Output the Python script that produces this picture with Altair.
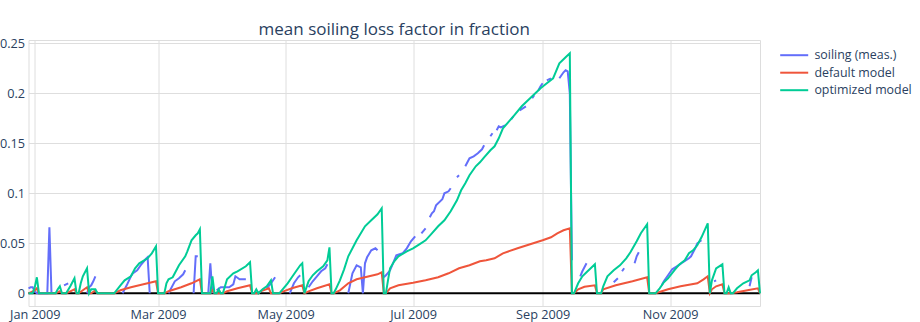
import altair as alt
import pandas as pd

# ---------------- data (days counted from 2009-01-01) ----------------
base_date = "2009-01-01"

series_names = ["soiling (meas.)", "default model", "optimized model"]
series_colors = ["#636efa", "#EF553B", "#00cc96"]

meas_day = [-3, -2, -1, 0, 1, 6, 7, 8, 9,
            14, 16, 17,
            25, 26, 27, 28, 29, 30,
            42, 44, 46, 47, 49, 51, 53, 54, 55, 56,
            64, 67, 69, 71, 72, 73,
            76, 77, 78, 79,
            83, 84, 85, 86,
            87, 89, 93, 95, 96, 98, 101, 102,
            111, 113, 115, 116,
            122, 124, 126, 127, 128,
            131, 133, 135, 137, 139, 140, 141,
            150, 152, 154, 155, 156, 157, 158, 159, 161, 163, 164, 165,
            167, 168, 170, 172, 173, 176, 178, 180, 182, 183,
            185, 187, 188,
            189, 190, 191, 192, 195, 196, 198, 199, 200,
            202, 203, 204,
            206, 208, 210, 212, 214, 215, 216,
            218, 219, 220,
            221, 222, 223, 225, 226,
            228, 229, 230,
            232, 235, 236,
            238, 239, 240,
            241, 242, 243, 244,
            245, 247, 248,
            251, 252, 253, 254, 255, 256, 257, 258,
            261, 262, 264, 265,
            277, 279, 280,
            281, 282, 283,
            287, 288, 289, 290,
            300, 301, 303, 305, 308, 310, 313, 314, 316, 317, 319, 320,
            325, 326, 327,
            342, 343, 344]
meas_val = [0.005, 0.006, 0.006, 0.002, 0, 0, 0.066, 0, None,
            0.008, 0.01, None,
            0, 0.006, 0.008, 0.012, 0.017, None,
            0, 0.008, 0.017, 0.02, 0.023, 0.029, 0.034, 0.036, 0, None,
            0, 0.012, 0.015, 0.019, 0.023, None,
            0, 0.037, 0.037, None,
            0, 0.03, 0, None,
            0.003, 0.006, 0.006, 0.009, 0.017, 0.014, 0.014, None,
            0.005, 0.01, 0.016, None,
            0, 0.01, 0.016, 0.018, None,
            0.006, 0.012, 0.017, 0.022, 0.025, 0.029, None,
            0, 0.02, 0.028, 0.027, 0.026, 0, 0.03, 0.036, 0.043, 0.045, 0.043, None,
            0.016, 0.018, 0.023, 0.033, 0.038, 0.04, 0.045, 0.052, 0.057, None,
            0.06, 0.065, None,
            0.076, 0.08, 0.082, 0.088, 0.094, 0.1, 0.102, 0.105, None,
            0.116, 0.118, None,
            0.127, 0.135, 0.137, 0.14, 0.144, 0.148, None,
            0.157, 0.16, None,
            0.163, 0.167, 0.166, 0.168, None,
            0.174, 0.177, None,
            0.183, 0.187, None,
            0.195, 0.198, None,
            0.203, 0.207, 0.21, None,
            0.213, 0.215, None,
            0.215, 0.218, 0.221, 0.223, 0.222, 0.2, 0.033, None,
            0.017, 0.022, 0.03, None,
            0.011, 0.015, None,
            0.022, 0.025, None,
            0.03, 0.037, 0.041, None,
            0.008, 0.012, 0.018, 0.024, 0.028, 0.031, 0.035, 0.037, 0.045, 0.05, 0.053, None,
            0.012, 0.013, None,
            0.007, 0.016, None]

default_day = [-3, 0, 1, 2,
               10, 12, 13,
               15, 19, 20,
               21, 25, 26,
               27, 29, 30,
               38, 41, 46, 50, 54, 58, 59,
               62, 64, 70, 75, 79, 80,
               84, 85, 86,
               90, 92, 97, 103, 104,
               107, 108, 112, 113,
               117, 119, 123, 128, 129,
               131, 135, 141, 142,
               143, 146, 150, 154, 160, 164, 166, 167,
               168, 170, 174, 181, 187, 193, 198, 203, 208, 213, 216, 220, 224, 231,
               237, 243, 247, 250, 253, 256, 257,
               258, 260, 263, 268, 269,
               271, 272, 278, 286, 293, 294,
               297, 300, 303, 309, 317, 320, 322, 323,
               324, 326, 329, 330,
               333, 336, 341, 346, 347]
default_val = [0, 0.003, 0.005, 0,
               0, 0.002, 0,
               0, 0.004, 0,
               0, 0.006, 0,
               0, 0.003, 0,
               0, 0.003, 0.006, 0.008, 0.01, 0.012, 0,
               0, 0.002, 0.006, 0.01, 0.014, 0,
               0, 0.003, 0,
               0, 0.002, 0.005, 0.008, 0,
               0, 0.002, 0.005, 0,
               0, 0.002, 0.005, 0.008, 0,
               0.002, 0.005, 0.009, 0,
               0, 0.003, 0.01, 0.014, 0.017, 0.019, 0.021, 0,
               0, 0.005, 0.008, 0.0105, 0.013, 0.016, 0.02, 0.025, 0.028, 0.032, 0.033, 0.035, 0.04, 0.045,
               0.049, 0.053, 0.056, 0.06, 0.063, 0.065, 0,
               0, 0.004, 0.0065, 0.008, 0,
               0, 0.004, 0.008, 0.012, 0.016, 0,
               0, 0.002, 0.004, 0.007, 0.01, 0.014, 0.017, 0,
               0.004, 0.007, 0.009, 0,
               0, 0.001, 0.003, 0.005, 0]

optimized_day = [-3, -1, 0, 1, 2,
                 10, 11, 12, 13,
                 15, 17, 19, 20,
                 21, 22, 23, 25, 26,
                 27, 29, 30,
                 38, 41, 43, 46, 48, 50, 54, 56, 58, 59,
                 62, 63, 64, 66, 67, 69, 72, 73, 75, 77, 78, 79, 80,
                 84, 85, 86, 87, 88, 89,
                 90, 92, 95, 97, 101, 103, 104,
                 105, 106, 107,
                 109, 111, 113, 114,
                 117, 119, 121, 123, 125, 127, 128, 129,
                 130, 131, 133, 135, 138, 140, 141, 142,
                 143, 144, 146, 148, 150, 154, 158, 161, 164, 166, 167,
                 168, 169, 170, 172, 174, 178, 181, 184, 187, 190, 193, 196, 199, 202,
                 204, 206, 208, 211, 213, 215, 218, 220, 222, 224, 229, 233, 237, 242,
                 245, 248, 251, 254, 256, 257,
                 258, 260, 262, 264, 266, 268, 269,
                 271, 272, 274, 277, 280, 283, 285, 288, 290, 293, 294,
                 297, 299, 301, 303, 306, 308, 311, 313, 315, 317, 319, 322, 323,
                 324, 326, 329, 330,
                 331, 332, 333,
                 334, 336, 339, 342, 343, 345, 346, 347]
optimized_val = [0, 0, 0.006, 0.016, 0,
                 0, 0.004, 0.007, 0,
                 0, 0.007, 0.015, 0,
                 0, 0.01, 0.017, 0.025, 0,
                 0.004, 0.004, 0,
                 0, 0.008, 0.013, 0.017, 0.025, 0.03, 0.035, 0.04, 0.047, 0,
                 0, 0.01, 0.014, 0.016, 0.02, 0.028, 0.037, 0.042, 0.053, 0.058, 0.06, 0.064, 0,
                 0, 0.017, 0, 0, 0.004, 0,
                 0, 0.014, 0.02, 0.022, 0.027, 0.031, 0,
                 0, 0.004, 0,
                 0.004, 0.007, 0.013, 0,
                 0, 0.005, 0.01, 0.016, 0.022, 0.028, 0.03, 0,
                 0.006, 0.012, 0.018, 0.022, 0.027, 0.033, 0.046, 0,
                 0, 0.004, 0.013, 0.024, 0.037, 0.053, 0.067, 0.073, 0.079, 0.085, 0,
                 0, 0.013, 0.025, 0.032, 0.037, 0.042, 0.045, 0.049, 0.053, 0.06, 0.067, 0.073, 0.082, 0.093,
                 0.103, 0.11, 0.118, 0.127, 0.131, 0.136, 0.143, 0.147, 0.155, 0.165, 0.177, 0.187, 0.195, 0.205,
                 0.21, 0.215, 0.23, 0.236, 0.24, 0,
                 0, 0.01, 0.017, 0.021, 0.025, 0.029, 0,
                 0, 0.007, 0.017, 0.023, 0.028, 0.035, 0.041, 0.052, 0.06, 0.069, 0,
                 0, 0.005, 0.011, 0.015, 0.023, 0.028, 0.033, 0.04, 0.043, 0.048, 0.056, 0.07, 0,
                 0.013, 0.025, 0.029, 0,
                 0, 0.006, 0,
                 0, 0.005, 0.01, 0.013, 0.018, 0.021, 0.023, 0]

x_tick_months = [1, 3, 5, 7, 9, 11]
y_tick_values = [0, 0.05, 0.1, 0.15, 0.2, 0.25]
title_text = "mean soiling loss factor in fraction"

# ---------------- build tables ----------------
def frame(days, vals, name):
    return pd.DataFrame({
        "date": pd.Timestamp(base_date) + pd.to_timedelta(days, unit="D"),
        "value": pd.array(vals, dtype="Float64").astype(float),
        "series": name,
    })

df_meas = frame(meas_day, meas_val, series_names[0])
df_default = frame(default_day, default_val, series_names[1])
df_opt = frame(optimized_day, optimized_val, series_names[2])

FONT = "Open Sans"
TXT = "#2a3f5f"
GRID = "#dedede"
SMALL = 12.7

x_enc = alt.X(
    "date:T",
    scale=alt.Scale(domain=[alt.DateTime(year=2008, month=12, date=29),
                            alt.DateTime(year=2009, month=12, date=14)], nice=False),
    axis=alt.Axis(values=[alt.DateTime(year=2009, month=m, date=1) for m in x_tick_months],
                  format="%b %Y", title=None, domain=False, ticks=False, tickSize=0,
                  labelPadding=2, labelFont=FONT, labelFontSize=SMALL, labelColor=TXT,
                  gridColor=GRID, gridWidth=1, labelFlush=False),
)
y_enc = alt.Y(
    "value:Q",
    scale=alt.Scale(domain=[-0.0127, 0.2533], nice=False, zero=False),
    axis=alt.Axis(values=y_tick_values, format=".2~f", title=None, domain=False,
                  ticks=False, tickSize=0, labelPadding=4, labelFont=FONT,
                  labelFontSize=SMALL, labelColor=TXT, gridColor=GRID, gridWidth=1),
)
color_enc = alt.Color(
    "series:N",
    scale=alt.Scale(domain=series_names, range=series_colors),
    legend=alt.Legend(title=None, orient="none", legendX=759.5, legendY=9,
                      symbolType="M-2.8,0H2.8", symbolSize=100, symbolStrokeWidth=2,
                      labelFont=FONT, labelFontSize=12.4, labelColor=TXT,
                      labelOffset=14, rowPadding=4.5, padding=0),
)

zero_rule = alt.Chart(pd.DataFrame({"z": [0]})).mark_rule(
    color="black", strokeWidth=2).encode(y=alt.Y("z:Q"))


def line_layer(df):
    return alt.Chart(df).mark_line(
        strokeWidth=2, invalid="break-paths-filter-domains"
    ).encode(x=x_enc, y=y_enc, color=color_enc)


chart = alt.layer(
    zero_rule, line_layer(df_meas), line_layer(df_default), line_layer(df_opt)
).properties(
    width=731.5,
    height=266,
    padding={"left": 28.5, "top": 40, "right": 160, "bottom": 16},
    autosize=alt.AutoSizeParams(type="none"),
    title=alt.Title(title_text, font=FONT, fontSize=17, fontWeight="normal",
                    color=TXT, anchor="middle", frame="group",
                    baseline="alphabetic", offset=4, dy=19),
).configure_view(stroke=None).configure(background="white")

chart.save("out.html", embed_options={"renderer": "svg", "actions": False})
